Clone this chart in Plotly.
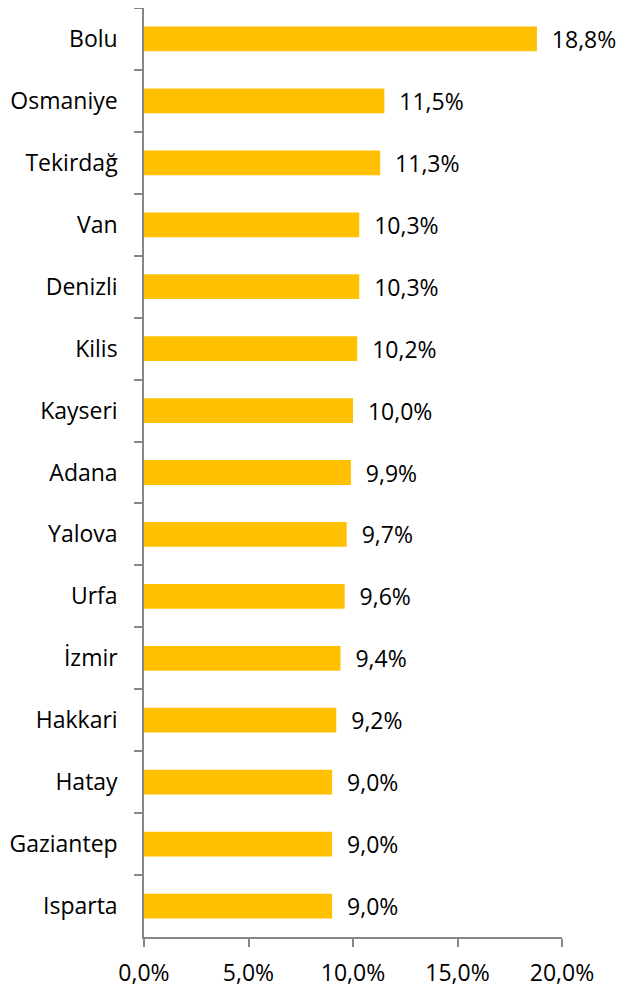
import plotly.graph_objects as go

categories = ["Bolu", "Osmaniye", "Tekirdağ", "Van", "Denizli", "Kilis", "Kayseri", "Adana",
              "Yalova", "Urfa", "İzmir", "Hakkari", "Hatay", "Gaziantep", "Isparta"]
values = [18.8, 11.5, 11.3, 10.3, 10.3, 10.2, 10.0, 9.9, 9.7, 9.6, 9.4, 9.2, 9.0, 9.0, 9.0]
x_ticks = [0, 5, 10, 15, 20]
x_tick_labels = ["0,0%", "5,0%", "10,0%", "15,0%", "20,0%"]

labels = ["  " + f"{v:.1f}%".replace(".", ",") for v in values]

FONT = "Open Sans"
FS = 23
AXIS_COLOR = "#868686"

fig = go.Figure(go.Bar(
    y=categories, x=values, orientation="h",
    marker=dict(color="#FFC000", line=dict(width=0)),
    width=0.4,
    text=labels, textposition="outside", cliponaxis=False, constraintext="none",
    textfont=dict(family=FONT, size=FS, color="#000000"),
))

fig.update_layout(
    width=627, height=981,
    margin=dict(l=136, r=73, t=0, b=52, autoexpand=False),
    paper_bgcolor="white", plot_bgcolor="white",
    showlegend=False,
    font=dict(family=FONT, size=FS, color="#000000"),
    xaxis=dict(range=[0, 20], tickvals=x_ticks, ticktext=x_tick_labels, automargin=False,
               showgrid=False, zeroline=False, showline=True, linecolor=AXIS_COLOR,
               linewidth=1.5, ticks="outside", ticklen=8, tickcolor=AXIS_COLOR,
               tickwidth=1.5, tickfont=dict(family=FONT, size=FS), ticklabelstandoff=7),
    yaxis=dict(autorange="reversed", type="category", showgrid=False, zeroline=False,
               automargin=False,
               showline=True, linecolor=AXIS_COLOR, linewidth=1.5,
               ticks="outside", tickson="boundaries", ticklen=8, tickcolor=AXIS_COLOR,
               tickwidth=1.5, tickfont=dict(family=FONT, size=FS), ticklabelstandoff=20),
)

fig.write_html("out.html")
